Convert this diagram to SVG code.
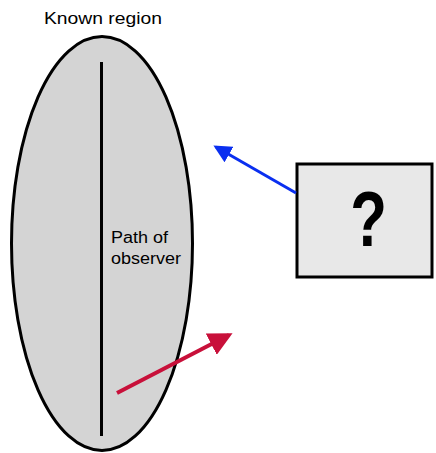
<svg xmlns="http://www.w3.org/2000/svg" width="436" height="453" viewBox="0 0 436 453">
  <style>
    .label { font-family: "Liberation Sans", Arial, sans-serif; fill: #000; }
    .outline { stroke: #000; stroke-width: 3; }
  </style>
  <defs>
    <marker id="headBlue" markerWidth="6" markerHeight="6" refX="5" refY="3" orient="auto" markerUnits="strokeWidth">
      <path d="M0,0 L6,3 L0,6 Z" fill="#0a2ff0"/>
    </marker>
    <marker id="headRed" markerWidth="6" markerHeight="6" refX="5" refY="3" orient="auto" markerUnits="strokeWidth">
      <path d="M0,0 L6,3 L0,6 Z" fill="#c8103a"/>
    </marker>
  </defs>
  <rect width="436" height="453" fill="#fff"/>

  <!-- known region with observer path -->
  <g id="known-region">
    <ellipse cx="102" cy="243.5" rx="90.5" ry="207" fill="#d4d4d4" class="outline"/>
    <line x1="101.5" y1="62" x2="101.5" y2="436" class="outline"/>
    <text x="44" y="23.5" class="label" font-size="16.5" textLength="118" lengthAdjust="spacingAndGlyphs">Known region</text>
    <text x="111" y="243" class="label" font-size="16" textLength="57" lengthAdjust="spacingAndGlyphs">Path of</text>
    <text x="111" y="264" class="label" font-size="16" textLength="70" lengthAdjust="spacingAndGlyphs">observer</text>
  </g>

  <!-- unknown source -->
  <g id="unknown">
    <rect x="297" y="164" width="135" height="113" fill="#e8e8e8" class="outline"/>
    <text x="0" y="0" class="label" font-size="77" font-weight="bold" text-anchor="middle" transform="translate(368.5 246) scale(0.78 1)">?</text>
  </g>

  <g id="connectors">
    <line x1="296" y1="193" x2="216" y2="147" stroke="#0a2ff0" stroke-width="3" marker-end="url(#headBlue)"/>
    <line x1="117" y1="393" x2="229" y2="335" stroke="#c8103a" stroke-width="4" marker-end="url(#headRed)"/>
  </g>
</svg>
